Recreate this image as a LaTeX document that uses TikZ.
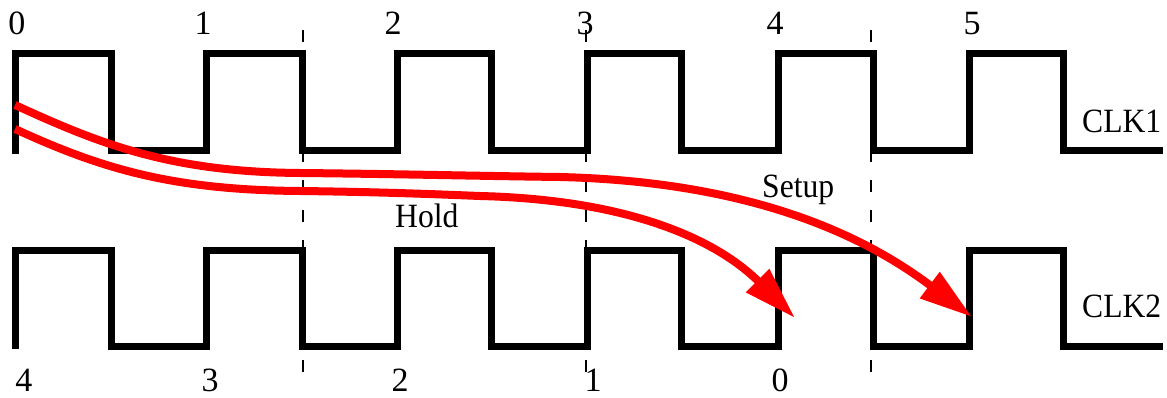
\documentclass[tikz,border=0pt]{standalone}
\usepackage{fontspec}
\setmainfont{Liberation Serif}
\usetikzlibrary{arrows.meta}
\newcommand{\nar}[1]{\scalebox{0.93}[1]{#1}}
\begin{document}
\begin{tikzpicture}[x=1pt,y=-1pt,
  clock/.style={line width=7pt,line join=miter,line cap=butt},
  marker/.style={line width=2.6pt,dash pattern=on 12pt off 18pt},
  path/.style={red,line width=8pt,line cap=butt,-{Triangle[length=53pt,width=31pt]}},
  lab/.style={inner sep=0pt,anchor=base,font=\fontsize{34}{36}\selectfont}]
\useasboundingbox (0,0) rectangle (1167,398);
% dashed markers
\foreach \x/\n in {303/a,586/b,871/c}{
  \coordinate (m\n top) at (\x,30);
  \coordinate (m\n bot) at (\x,372);
  \draw[marker] (m\n top) -- (m\n bot);
}
% clocks
\foreach \c/\t/\b in {1/54/151,2/250/346}{
  \coordinate (clk\c) at (15,\b+3);
  \draw[clock] (clk\c) -- (15,\t) -- (111,\t) -- (111,\b) -- (206,\b) -- (206,\t)
    -- (302,\t) -- (302,\b) -- (397,\b) -- (397,\t) -- (491,\t) -- (491,\b)
    -- (587,\b) -- (587,\t) -- (681,\t) -- (681,\b) -- (778,\b) -- (778,\t)
    -- (873,\t) -- (873,\b) -- (969,\b) -- (969,\t) -- (1063,\t) -- (1063,\b)
    -- (1163,\b);
}
% labels
\node[lab] (t0) at (17,35) {0};
\node[lab] (t1) at (203,35) {1};
\node[lab] (t2) at (393,35) {2};
\node[lab] (t3) at (585,35) {3};
\node[lab] (t4) at (775,35) {4};
\node[lab] (t5) at (972,35) {5};
\node[lab] (b4) at (24,391) {4};
\node[lab] (b3) at (210,391) {3};
\node[lab] (b2) at (400,391) {2};
\node[lab] (b1) at (593,391) {1};
\node[lab] (b0) at (780,391) {0};
\node[lab,anchor=base west] (c1) at (1082,133) {\nar{CLK1}};
\node[lab,anchor=base west] (c2) at (1082,317) {\nar{CLK2}};
\node[lab,anchor=base west] (setup) at (762,197) {\nar{Setup}};
\node[lab,anchor=base west] (hold) at (395,228) {\nar{Hold}};
% red timing paths
\coordinate (sS) at (15,105);
\coordinate (sE) at (972,317);
\coordinate (hS) at (15,129);
\coordinate (hE) at (795,318);
\draw[path] (sS) .. controls (100,144) and (170,172) .. (300,173)
  .. controls (400,174) and (480,176) .. (560,177)
  .. controls (760,182) and (870,240) .. (sE);
\draw[path] (hS) .. controls (100,168) and (170,190) .. (300,191)
  .. controls (380,192) and (430,194) .. (480,196)
  .. controls (640,200) and (722,245) .. (hE);
\end{tikzpicture}
\end{document}
